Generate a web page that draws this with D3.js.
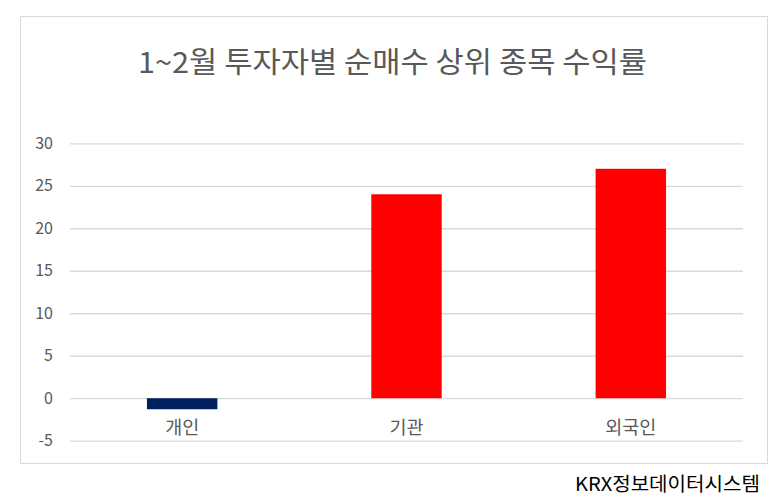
<!DOCTYPE html>
<html>
<head>
<meta charset="utf-8">
<script src="https://cdn.jsdelivr.net/npm/d3@7"></script>
<style>
  body { margin: 0; background: #fff; }
  svg text { font-family: "Malgun Gothic", "Noto Sans CJK KR", sans-serif; }
</style>
</head>
<body>
<script>
const categories = ["개인", "기관", "외국인"];
const values = [-1.3, 24.0, 27.0];
const barColors = ["#002060", "#ff0000", "#ff0000"];
const yTicks = [-5, 0, 5, 10, 15, 20, 25, 30];
const title = "1~2월 투자자별 순매수 상위 종목 수익률";
const source = "KRX정보데이터시스템";

const W = 780, H = 504;
const svg = d3.select("body").append("svg").attr("width", W).attr("height", H);

// chart frame
svg.append("rect")
    .attr("x", 20.5).attr("y", 16.5)
    .attr("width", 747).attr("height", 447)
    .attr("fill", "#fff").attr("stroke", "#d9d9d9");

svg.append("text")
    .attr("x", 138).attr("y", 73)
    .attr("font-size", 29)
    .attr("textLength", 509).attr("lengthAdjust", "spacingAndGlyphs")
    .attr("fill", "#595959")
    .text(title);

let x = d3.scaleBand().domain(categories).range([70, 743]).paddingInner(0.686).paddingOuter(0.343);
let y = d3.scaleLinear().domain([-5, 30]).range([440.7, 143.3]);

// gridlines + y labels
let yAxis = d3.axisLeft(y).tickValues(yTicks).tickFormat(d => String(d))
    .tickSize(-(743 - 70)).tickPadding(17);
let gy = svg.append("g").attr("transform", "translate(70,0)").call(yAxis);
gy.select(".domain").remove();
gy.selectAll(".tick line").attr("stroke", "#d9d9d9").attr("stroke-width", 1.3);
gy.selectAll(".tick text").attr("fill", "#595959").attr("font-size", 16);

svg.selectAll("rect.bar")
    .data(values)
    .enter().append("rect")
        .attr("class", "bar")
        .attr("x", (d, i) => x(categories[i]))
        .attr("width", x.bandwidth())
        .attr("y", d => y(Math.max(0, d)))
        .attr("height", d => Math.abs(y(d) - y(0)))
        .attr("fill", (d, i) => barColors[i]);

// category labels sit under the zero line
svg.selectAll("text.cat")
    .data(categories)
    .enter().append("text")
        .attr("class", "cat")
        .attr("x", d => x(d) + x.bandwidth() / 2)
        .attr("y", y(0) + 36)
        .attr("text-anchor", "middle")
        .attr("font-size", 18.5)
        .attr("fill", "#595959")
        .text(d => d);

svg.append("text")
    .attr("x", 575).attr("y", 491)
    .attr("font-size", 19)
    .attr("textLength", 185).attr("lengthAdjust", "spacingAndGlyphs")
    .attr("fill", "#000")
    .text(source);
</script>
</body>
</html>
